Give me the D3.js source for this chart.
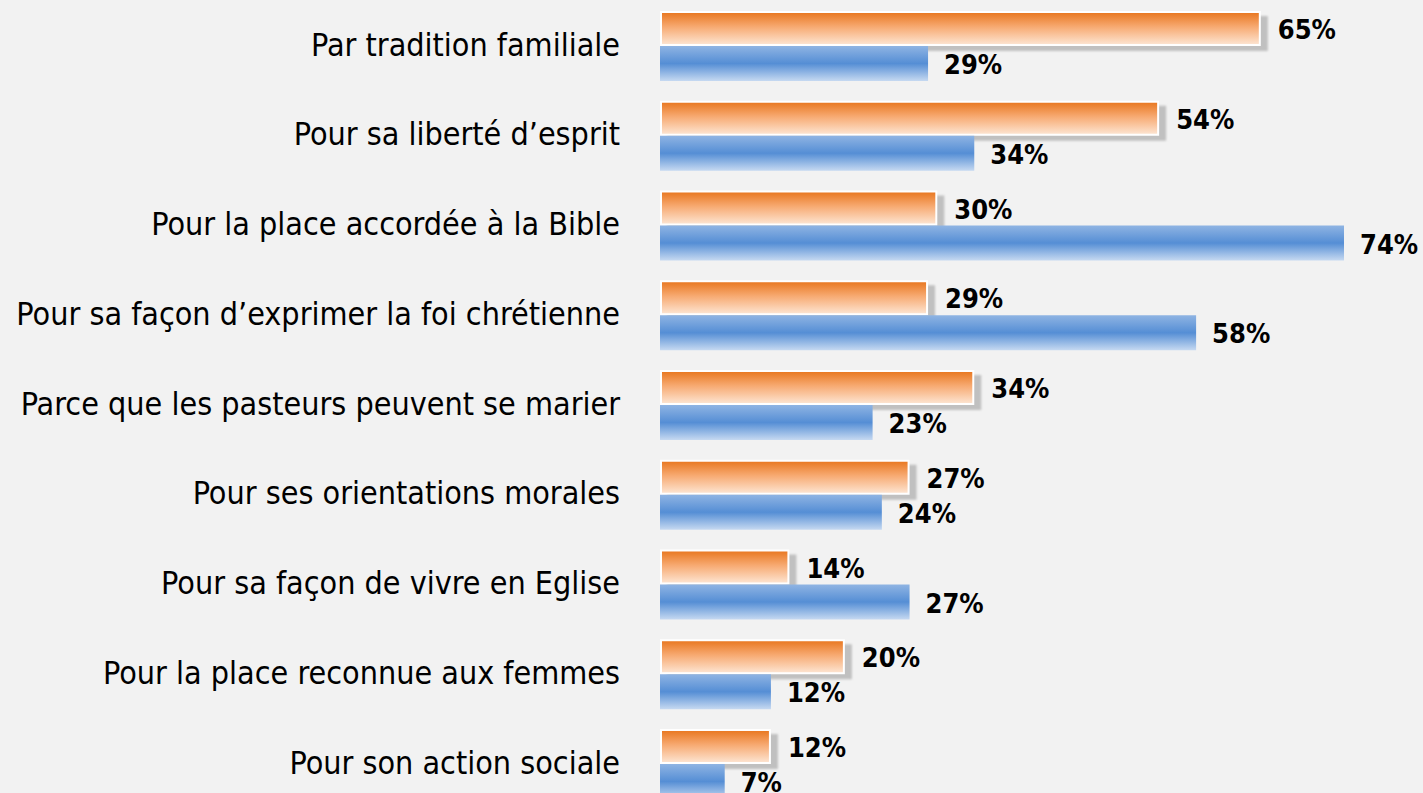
<!DOCTYPE html>
<html>
<head>
<meta charset="utf-8">
<script src="https://cdn.jsdelivr.net/npm/d3@7"></script>
<style>
  body { margin: 0; background: #f2f2f2; }
  svg { display: block; }
</style>
</head>
<body>
<script>
const width = 1423;
const height = 793;

// chart data
const categories = [
    "Par tradition familiale",
    "Pour sa liberté d\u2019esprit",
    "Pour la place accordée à la Bible",
    "Pour sa façon d\u2019exprimer la foi chrétienne",
    "Parce que les pasteurs peuvent se marier",
    "Pour ses orientations morales",
    "Pour sa façon de vivre en Eglise",
    "Pour la place reconnue aux femmes",
    "Pour son action sociale"
];
const seriesNames = ["orange", "bleu"];
const orangeValues = [65, 54, 30, 29, 34, 27, 14, 20, 12];
const blueValues = [29, 34, 74, 58, 23, 24, 27, 12, 7];

let svg = d3.select("body")
    .append("svg")
    .attr("width", width)
    .attr("height", height)

const defs = svg.append("defs");

// orange gradient, dark on top
let og = defs.append("linearGradient").attr("id", "gOrange")
    .attr("x1", 0).attr("y1", 0).attr("x2", 0).attr("y2", 1);
og.append("stop").attr("offset", "0%").attr("stop-color", "#e8761e");
og.append("stop").attr("offset", "45%").attr("stop-color", "#f7aa72");
og.append("stop").attr("offset", "100%").attr("stop-color", "#fde6d4");

// blue gradient, darker in the middle
let bg = defs.append("linearGradient").attr("id", "gBlue")
    .attr("x1", 0).attr("y1", 0).attr("x2", 0).attr("y2", 1);
bg.append("stop").attr("offset", "0%").attr("stop-color", "#8fb4e3");
bg.append("stop").attr("offset", "50%").attr("stop-color", "#558ed5");
bg.append("stop").attr("offset", "100%").attr("stop-color", "#c6d9f1");

let blur = defs.append("filter").attr("id", "soft");
blur.append("feGaussianBlur").attr("stdDeviation", 0.8);

const x = d3.scaleLinear().domain([0, 74]).range([660, 1344]);

const y = d3.scaleBand()
    .domain(categories)
    .range([11, 799])
    .paddingInner(0.22)
    .paddingOuter(0);

const sub = d3.scaleBand()
    .domain(seriesNames)
    .range([0, y.bandwidth()]);

const rows = categories.map((c, i) => ({ cat: c, orange: orangeValues[i], blue: blueValues[i] }));

// category labels
svg.selectAll("text.cat")
    .data(rows)
    .join("text")
    .attr("class", "cat")
    .attr("x", 620)
    .attr("y", d => y(d.cat) + y.bandwidth() / 2)
    .attr("dy", "0.3em")
    .attr("text-anchor", "end")
    .style("font-family", "DejaVu Sans Condensed, DejaVu Sans, sans-serif")
    .style("font-size", "32px")
    .style("fill", "#000")
    .text(d => d.cat);

// shadows of orange bars
svg.selectAll("rect.shadow")
    .data(rows)
    .join("rect")
    .attr("class", "shadow")
    .attr("x", x(0) + 7)
    .attr("y", d => y(d.cat) + sub("orange") + 5)
    .attr("width", d => x(d.orange) - x(0))
    .attr("height", sub.bandwidth())
    .attr("fill", "#c0c0c0")
    .attr("filter", "url(#soft)");

// orange bars with white border
svg.selectAll("rect.orange")
    .data(rows)
    .join("rect")
    .attr("class", "orange")
    .attr("x", x(0) + 1)
    .attr("y", d => y(d.cat) + sub("orange") + 1)
    .attr("width", d => x(d.orange) - x(0) - 2)
    .attr("height", sub.bandwidth() - 2)
    .attr("fill", "url(#gOrange)")
    .attr("stroke", "#fff")
    .attr("stroke-width", 2);

// blue bars
svg.selectAll("rect.blue")
    .data(rows)
    .join("rect")
    .attr("class", "blue")
    .attr("x", x(0))
    .attr("y", d => y(d.cat) + sub("bleu"))
    .attr("width", d => x(d.blue) - x(0))
    .attr("height", sub.bandwidth())
    .attr("fill", "url(#gBlue)");

// value labels
const labelStyle = sel => sel
    .attr("dy", "0.36em")
    .style("font-family", "DejaVu Sans Condensed, DejaVu Sans, sans-serif")
    .style("font-weight", "bold")
    .style("font-size", "27px")
    .style("fill", "#000");

svg.selectAll("text.vo")
    .data(rows)
    .join("text")
    .attr("class", "vo")
    .attr("x", d => x(d.orange) + 17)
    .attr("y", d => y(d.cat) + sub("orange") + sub.bandwidth() / 2 + 1)
    .call(labelStyle)
    .text(d => d.orange + "%");

svg.selectAll("text.vb")
    .data(rows)
    .join("text")
    .attr("class", "vb")
    .attr("x", d => x(d.blue) + 16)
    .attr("y", d => y(d.cat) + sub("bleu") + sub.bandwidth() / 2 + 1)
    .call(labelStyle)
    .text(d => d.blue + "%");
</script>
</body>
</html>
